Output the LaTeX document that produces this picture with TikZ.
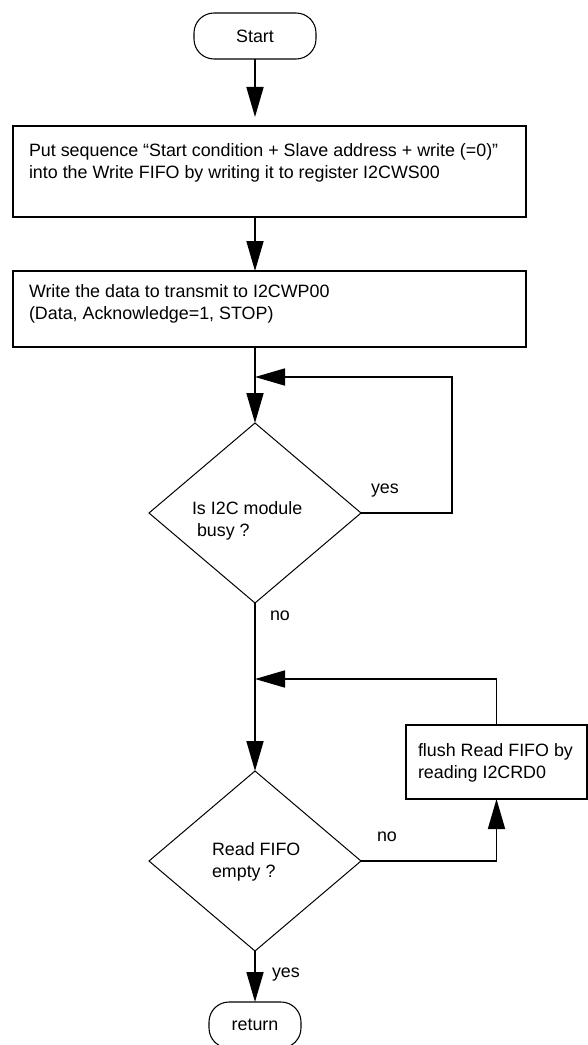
\documentclass[tikz,border=0pt]{standalone}
\usepackage{fontspec}
\setmainfont{Liberation Sans}
\usetikzlibrary{arrows.meta,shapes.geometric}

\begin{document}
\begin{tikzpicture}[x=0.75pt, y=-0.75pt,
  every node/.style={font=\fontsize{13.4}{16.1}\selectfont, outer sep=0pt},
  >={Triangle[length=22.5pt, width=12.75pt]},
  term/.style={draw, line width=0.8pt, rounded corners=15pt, minimum height=34.5pt, inner sep=0pt},
  proc/.style={draw, line width=1.5pt, inner sep=0pt},
  dec/.style={draw, diamond, line width=0.75pt, minimum width=159pt, minimum height=135pt, inner sep=0pt},
  txt/.style={inner sep=0pt, align=left, anchor=north west},
  lbl/.style={inner sep=0pt, anchor=base west},
  conn/.style={line width=1.3pt}]
\useasboundingbox (0,0) rectangle (588,1045);

% terminals and process boxes
\node[term, minimum width=91.5pt] (start) at (255,36) {Start};
\node[proc, minimum width=384.75pt, minimum height=68.25pt] (put) at (269.5,171.5) {};
\node[txt] (puttxt) at ([shift={(16,18)}]put.north west)
  {Put sequence “Start condition + Slave address + write (=0)”\\into the Write FIFO by writing it to register I2CWS00};
\node[proc, minimum width=384.75pt, minimum height=57pt] (wr) at (269.5,309) {};
\node[txt] (wrtxt) at ([shift={(16,14)}]wr.north west)
  {Write the data to transmit to I2CWP00\\(Data, Acknowledge=1, STOP)};

% decisions
\node[dec] (busy) at (255,513) {};
\node[txt] (busytxt) at ([shift={(-63,-11)}]busy.center) {Is I2C module\\\hspace*{3.75pt}busy ?};
\node[dec] (empty) at (255,861) {};
\node[txt] (emptytxt) at ([shift={(-43,-18)}]empty.center) {Read FIFO\\empty ?};

\node[proc, minimum width=135.75pt, minimum height=55.5pt] (flush) at (496.5,762) {};
\node[txt] (flushtxt) at ([shift={(12,19)}]flush.north west) {flush Read FIFO by\\reading I2CRD0};
\node[term, minimum width=69pt] (ret) at (255,1025) {return};

% junctions on the main line
\coordinate (j1) at (255,377);
\coordinate (j2) at (255,679);

% connectors
\draw[conn, ->, shorten >=6.75pt] (start.south) -- (start.south |- put.north);
\draw[conn, ->] (put.south -| start.south) -- (wr.north -| start.south);
\draw[conn, ->] (wr.south -| busy.north) -- (busy.north);
\draw[conn, ->] (busy.east) -- ++(91,0) |- (j1);
\draw[conn, ->] (busy.south) -- (empty.north);
\draw[conn, ->] (empty.east) -| (flush.south);
\draw[conn, ->] (flush.north) |- (j2);
\draw[conn, ->] (empty.south) -- (ret.north);

% branch labels
\node[lbl] (yes1) at (371,493) {yes};
\node[lbl] (no1) at (270,620) {no};
\node[lbl] (no2) at (377,841) {no};
\node[lbl] (yes2) at (272,977) {yes};

\end{tikzpicture}
\end{document}
